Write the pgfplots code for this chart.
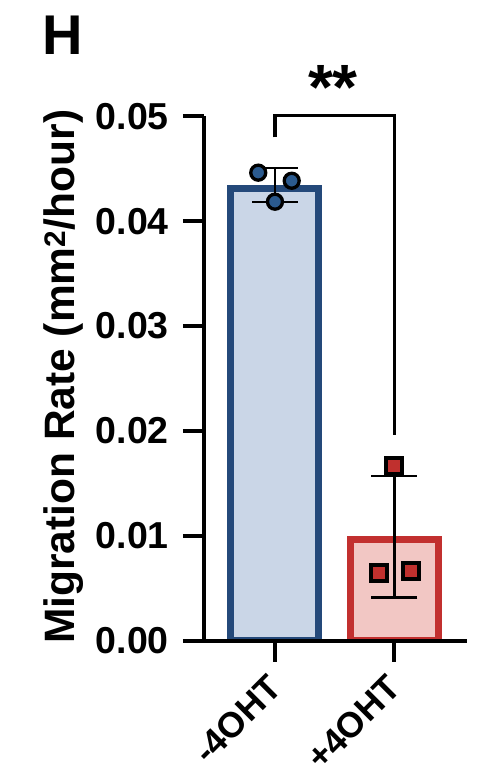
\documentclass[border=0pt]{standalone}
\usepackage{pgfplots}
\pgfplotsset{compat=1.18}
\usepackage{fontspec}
\setmainfont{Liberation Sans}
\definecolor{bluedge}{HTML}{24497A}
\definecolor{bluefill}{HTML}{CAD6E7}
\definecolor{bluept}{HTML}{2B5A8E}
\definecolor{rededge}{HTML}{C2302F}
\definecolor{redfill}{HTML}{F2C7C4}
\definecolor{redpt}{HTML}{C0302E}
\begin{document}
\begin{tikzpicture}
\useasboundingbox (-204bp,-142.5bp) rectangle (281bp,640.5bp);
\begin{axis}[
  scale only axis, width=263bp, height=524bp,
  xmin=-0.594, xmax=1.607, ymin=0, ymax=0.05,
  axis lines=left, axis line style={line width=4bp, -},
  tick style={line width=4bp, black}, major tick length=21bp, tick align=outside,
  axis on top,
  scaled y ticks=false,
  xtick={0,1}, xticklabels={-4OHT,+4OHT},
  ytick={0,0.01,0.02,0.03,0.04,0.05},
  yticklabels={0.00,0.01,0.02,0.03,0.04,0.05},
  /pgf/number format/assume math mode=true,
  yticklabel shift=14bp,
  xticklabel shift=20bp,
  yticklabel style={font=\bfseries\fontsize{37.5bp}{37.5bp}\selectfont, inner sep=0pt, anchor=east},
  xticklabel style={font=\bfseries\fontsize{35.5bp}{35.5bp}\selectfont, inner sep=0pt, rotate=45, anchor=east},
  ylabel={Migration Rate (mm\textsuperscript{2}/hour)},
  ylabel style={font=\bfseries\fontsize{42.5bp}{42.5bp}\selectfont, at={(axis description cs:-0.535,0.503)}, anchor=center, inner sep=0pt},
]
\addplot[ybar, bar shift=0pt, bar width=88bp, fill=bluefill, draw=bluedge, line width=7bp] coordinates {(0,0.0431)};
\addplot[ybar, bar shift=0pt, bar width=88bp, fill=redfill, draw=rededge, line width=7bp] coordinates {(1,0.0096)};
\addplot[draw=none, mark=none, error bars/.cd, y dir=both, y explicit,
  error bar style={draw=black, line width=2.2bp},
  error mark options={rotate=90, mark size=23bp, line width=2.2bp, draw=black}]
  coordinates {(0,0.04346) +- (0,0.0016) (1,0.0099) +- (0,0.0058)};
\addplot[only marks, mark=*, mark size=7.5bp, mark options={fill=bluept, draw=black, line width=3.3bp}]
  coordinates {(-0.14,0.04464) (0.14,0.04387) (0,0.04187)};
\addplot[only marks, mark=square*, mark size=8bp, mark options={fill=redpt, draw=black, line width=4bp}]
  coordinates {(1,0.01665) (0.87,0.00641) (1.14,0.00666)};
\end{axis}
\begin{axis}[
  scale only axis, width=263bp, height=524bp,
  xmin=-0.594, xmax=1.607, ymin=0, ymax=0.05,
  hide axis, clip=false,
]
\addplot[line width=3.3bp, black] coordinates {(0,0.0480) (0,0.0501) (1,0.0501) (1,0.0196)};
\node[font=\bfseries\fontsize{64bp}{64bp}\selectfont, inner sep=0pt, anchor=center] at (axis cs:0.485,0.0528) {**};
\node[font=\bfseries\fontsize{56bp}{56bp}\selectfont, inner sep=0pt, anchor=center] at (axis cs:-1.774,0.0578) {H};
\end{axis}
\end{tikzpicture}
\end{document}
